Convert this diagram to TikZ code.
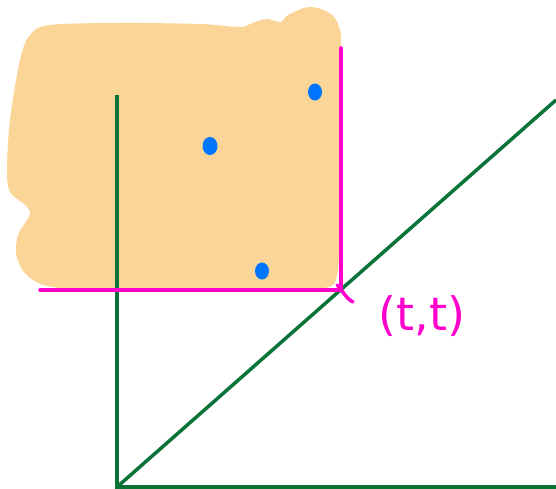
\documentclass[tikz,border=0pt]{standalone}
\usepackage{fontspec}
\setmainfont{DejaVu Sans}
\usetikzlibrary{shapes.geometric}
\definecolor{blob}{RGB}{250,213,151}
\definecolor{axisgreen}{RGB}{10,115,55}
\definecolor{mag}{RGB}{255,0,204}
\definecolor{dotblue}{RGB}{0,118,255}
\begin{document}
\begin{tikzpicture}[x=1pt,y=-1pt,
  axis/.style={draw=axisgreen,line width=3.5pt},
  magline/.style={draw=mag,line width=3.5pt,line cap=round},
  dot/.style={ellipse,fill=dotblue,inner sep=0pt,minimum width=#1,minimum height=#1+3pt}]
\useasboundingbox (0,0) rectangle (556,489);
% blob
\fill[blob] plot[smooth cycle,tension=0.55] coordinates {
 (50,25) (120,23) (200,24) (240,27) (252,23) (267,19) (281,22) (288,15) (310,7) (332,15) (341,36)
 (339,80) (339,160) (339,240) (337,275) (325,288) (260,291) (150,291) (60,288) (30,278) (17,258)
 (18,235) (30,214) (24,204) (10,192) (7,170) (10,120) (20,60) (30,35)};
% axes
\coordinate (O) at (117,487);
\coordinate (Ytop) at (117,95);
\coordinate (Xend) at (556,487);
\coordinate (Dend) at (556,100);
\draw[axis] (Ytop) -- (O) -- (Xend);
\draw[axis] (O) -- (Dend);
% magenta lines
\coordinate (T) at (341,290);
\coordinate (Hl) at (40,290);
\coordinate (Vt) at (341,48);
\draw[magline] (Hl) -- (T) -- (Vt);
\coordinate (C1) at (337,285);
\coordinate (C2) at (353,302);
\draw[magline] (C1) .. controls (343,290) and (344,297) .. (C2);
% dots
\node[dot=14pt] (d1) at (315,92) {};
\node[dot=15pt] (d2) at (210,146) {};
\node[dot=14pt] (d3) at (262,271) {};
% label
\node[text=mag,font=\fontsize{46}{50}\selectfont] (lab) at (422,316) {(t,t)};
\end{tikzpicture}
\end{document}
